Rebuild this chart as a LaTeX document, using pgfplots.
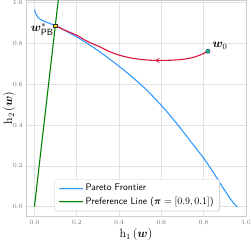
\documentclass[border=0pt]{standalone}
\usepackage{pgfplots}
\pgfplotsset{compat=1.18}
\usepackage{amsmath,bm}
\usetikzlibrary{calc,shadows,decorations.markings}
\definecolor{pblue}{RGB}{51,153,255}
\definecolor{pgreen}{RGB}{0,128,0}
\definecolor{pred}{RGB}{220,20,60}
\definecolor{pteal}{RGB}{32,178,170}
\definecolor{pgold}{RGB}{255,215,0}
\definecolor{gridc}{RGB}{225,225,225}
\definecolor{framec}{RGB}{205,205,205}
\definecolor{tickc}{RGB}{110,110,110}
\begin{document}
\begin{tikzpicture}
\begin{axis}[
  scale only axis,
  width=220bp, height=216bp,
  xmin=-0.04, xmax=1.0, ymin=-0.046, ymax=1.013,
  xtick={0,0.2,0.4,0.6,0.8,1.0},
  ytick={0,0.2,0.4,0.6,0.8,1.0},
  xticklabels={0.0,0.2,0.4,0.6,0.8,1.0},
  yticklabels={0.0,0.2,0.4,0.6,0.8,1.0},
  grid=major,
  major grid style={gridc, line width=0.6pt},
  axis line style={framec, line width=0.6pt},
  major tick length=0pt,
  tick label style={font=\fontsize{6.5}{7}\selectfont, text=tickc},
  xticklabel style={yshift=-1pt},
  xlabel={$\mathrm{h}_1\left(\boldsymbol{w}\right)$},
  ylabel={$\mathrm{h}_2\left(\boldsymbol{w}\right)$},
  label style={font=\fontsize{12}{14}\selectfont},
  xlabel style={yshift=3pt},
  ylabel style={yshift=-9pt},
  legend style={at={(0.505,0.023)}, anchor=south, draw=framec, fill=white,
    rounded corners=2pt, font=\fontsize{9.6}{11}\selectfont\sffamily,
    drop shadow={opacity=0.2, shadow xshift=0.8pt, shadow yshift=-0.8pt},
    row sep=1pt, inner xsep=4pt, inner ysep=2.5pt},
  legend cell align=left,
  legend image code/.code={\draw[#1] (0bp,0bp) -- (24bp,0bp);},
  clip=true,
]
\addplot[pblue, line width=1.1pt] coordinates {
(0,0.966)(0.003,0.955)(0.007,0.945)(0.012,0.935)(0.018,0.927)(0.024,0.921)(0.032,0.916)(0.04,0.912)(0.055,0.905)(0.07,0.899)(0.085,0.893)(0.1,0.887)
(0.125,0.874)(0.15,0.860)(0.175,0.846)(0.2,0.832)(0.225,0.816)(0.25,0.800)(0.28,0.780)(0.31,0.758)(0.335,0.739)(0.36,0.720)(0.38,0.704)(0.404,0.685)(0.43,0.663)(0.45,0.646)
(0.475,0.624)(0.498,0.603)(0.525,0.577)(0.55,0.551)(0.575,0.524)(0.6,0.496)(0.625,0.467)(0.65,0.436)(0.68,0.398)(0.706,0.363)(0.73,0.331)(0.75,0.304)(0.775,0.271)(0.801,0.236)
(0.815,0.215)(0.83,0.192)(0.845,0.169)(0.857,0.149)(0.871,0.126)(0.885,0.103)(0.9,0.079)(0.913,0.058)(0.925,0.040)(0.935,0.026)(0.943,0.015)(0.95,0.008)(0.955,0.003)(0.96,0.0)};
\addlegendentry{Pareto Frontier}
\addplot[pgreen, line width=1.1pt] coordinates {(0,0)(0.1133,1.02)};
\addlegendentry{Preference Line ($\boldsymbol{\pi}=[0.9,0.1]$)}
\addplot[pred, line width=1.1pt, smooth, forget plot,
  postaction={decorate, decoration={markings, mark=at position 0.34 with {\arrow{stealth}}}}]
  coordinates {
(0.82,0.762)(0.80,0.751)(0.78,0.742)(0.755,0.733)(0.733,0.727)(0.70,0.722)(0.68,0.720)
(0.65,0.718)(0.62,0.717)(0.59,0.717)(0.56,0.717)(0.53,0.719)(0.5,0.722)(0.45,0.730)
(0.4,0.743)(0.35,0.762)(0.31,0.783)(0.25,0.810)(0.2,0.840)(0.15,0.862)(0.1,0.887)};
\addplot[only marks, mark=*, mark size=2.2pt, mark options={fill=pteal, draw=black!80, line width=0.4pt}, forget plot]
  coordinates {(0.82,0.762)};
\addplot[only marks, mark=square*, mark size=2.0pt, mark options={fill=pgold, draw=black!80, line width=0.4pt}, forget plot]
  coordinates {(0.1,0.887)};
\node[anchor=base west, inner sep=0pt, font=\fontsize{12}{14}\selectfont] at (axis cs:0.841,0.781) {$\boldsymbol{w}_0$};
\node[anchor=base east, inner sep=0pt, font=\fontsize{13}{15}\selectfont] at (axis cs:0.091,0.858) {$\boldsymbol{w}^*_{\textsf{PB}}$};
\end{axis}
\pgfresetboundingbox
\path ($(current axis.south west)+(-26bp,-24bp)$) rectangle ($(current axis.north east)+(4bp,0bp)$);
\end{tikzpicture}
\end{document}
